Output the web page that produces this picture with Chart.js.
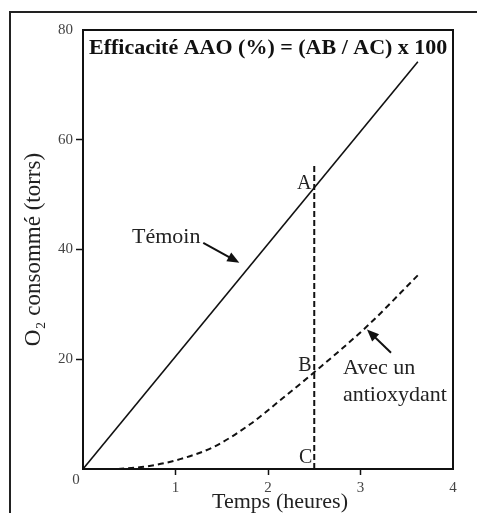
<!DOCTYPE html>
<html>
<head>
<meta charset="utf-8">
<script src="https://cdn.jsdelivr.net/npm/chart.js@4.4.1/dist/chart.umd.min.js"></script>
<style>
  body { margin: 0; background: #fff; }
  #wrap { position: relative; width: 477px; height: 513px; overflow: hidden; }
  #frame { position: absolute; left: 9px; top: 11px; width: 600px; height: 600px; border: 2px solid #222; }
  canvas { position: absolute; left: 0; top: 0; }
</style>
</head>
<body>
<div id="wrap">
  <div id="frame"></div>
  <canvas id="chart" width="477" height="513"></canvas>
</div>
<script>
// données (temps en heures, O2 en torrs)
const temoinX = [0, 3.62];
const temoinY = [0, 74.2];

const antioxX = [0.38, 0.7, 1.05, 1.41, 1.81, 2.13, 2.49, 3.07, 3.62];
const antioxY = [0, 0.5, 1.8, 4.0, 8.2, 12.5, 17.5, 26.0, 35.3];

// ligne verticale A-B-C
const mesureX = [2.5, 2.5];
const mesureY = [0, 55.5];

const xTicks = [0, 1, 2, 3, 4];
const yTicks = [0, 20, 40, 60, 80];

function toPoints(xs, ys) {
    return xs.map((x, i) => ({ x: x, y: ys[i] }));
}

const serif = "'Liberation Serif', 'Times New Roman', serif";

function arrow(ctx, x1, y1, x2, y2) {
    const a = Math.atan2(y2 - y1, x2 - x1);
    const len = 12, w = 5;
    ctx.beginPath();
    ctx.moveTo(x1, y1);
    ctx.lineTo(x2 - Math.cos(a) * len * 0.8, y2 - Math.sin(a) * len * 0.8);
    ctx.lineWidth = 2;
    ctx.stroke();
    ctx.beginPath();
    ctx.moveTo(x2, y2);
    ctx.lineTo(x2 - Math.cos(a) * len + Math.sin(a) * w, y2 - Math.sin(a) * len - Math.cos(a) * w);
    ctx.lineTo(x2 - Math.cos(a) * len - Math.sin(a) * w, y2 - Math.sin(a) * len + Math.cos(a) * w);
    ctx.closePath();
    ctx.fill();
}

const decorPlugin = {
    id: 'decor',
    afterDraw(chart) {
        const ctx = chart.ctx;
        const area = chart.chartArea;
        const xs = chart.scales.x, ys = chart.scales.y;
        const px = v => xs.getPixelForValue(v);
        const py = v => ys.getPixelForValue(v);

        ctx.save();
        ctx.strokeStyle = '#111';
        ctx.fillStyle = '#111';
        ctx.lineWidth = 2;
        ctx.strokeRect(area.left, area.top, area.right - area.left, area.bottom - area.top);

        // titre dans le cadre
        ctx.font = 'bold 22px ' + serif;
        ctx.textBaseline = 'middle';
        ctx.textAlign = 'left';
        ctx.fillText('Efficacité AAO (%) = (AB / AC) x 100', px(0.065), py(76.7));

        ctx.fillStyle = '#222';
        ctx.font = '22px ' + serif;
        ctx.fillText('Témoin', px(0.53), py(42.3));
        ctx.fillText('Avec un', px(2.81), py(18.4));
        ctx.fillText('antioxydant', px(2.81), py(13.5));

        ctx.font = '20px ' + serif;
        ctx.textAlign = 'right';
        ctx.fillText('A', px(2.47), py(52.0));
        ctx.fillText('B', px(2.47), py(18.8));
        ctx.fillText('C', px(2.48), py(2.0));

        ctx.fillStyle = '#111';
        arrow(ctx, px(1.30), py(41.2), px(1.69), py(37.6));
        arrow(ctx, px(3.33), py(21.2), px(3.07), py(25.4));

        // origine et titres des axes
        ctx.fillStyle = '#444';
        ctx.font = '15px ' + serif;
        ctx.textAlign = 'center';
        ctx.fillText('0', area.left - 7, area.bottom + 11);

        ctx.fillStyle = '#222';
        ctx.font = '22px ' + serif;
        ctx.fillText('Temps (heures)', 280, 502);

        ctx.translate(34, (area.top + area.bottom) / 2);
        ctx.rotate(-Math.PI / 2);
        ctx.font = '23px ' + serif;
        ctx.fillText('O₂ consommé (torrs)', 0, 0);
        ctx.restore();
    }
};

const tickFont = { family: serif, size: 15 };

new Chart(document.getElementById('chart').getContext('2d'), {
    type: 'scatter',
    data: {
        datasets: [
            {
                label: 'Témoin',
                data: toPoints(temoinX, temoinY),
                showLine: true,
                borderColor: '#111',
                borderWidth: 1.6,
                pointRadius: 0
            },
            {
                label: 'Avec un antioxydant',
                data: toPoints(antioxX, antioxY),
                showLine: true,
                borderColor: '#111',
                borderWidth: 2,
                borderDash: [6, 4],
                cubicInterpolationMode: 'monotone',
                pointRadius: 0
            },
            {
                label: 'ABC',
                data: toPoints(mesureX, mesureY),
                showLine: true,
                borderColor: '#111',
                borderWidth: 2,
                borderDash: [6, 3],
                pointRadius: 0
            }
        ]
    },
    options: {
        responsive: false,
        animation: false,
        layout: { padding: { top: 30, right: 24, left: 0, bottom: 0 } },
        plugins: {
            legend: { display: false },
            tooltip: { enabled: false }
        },
        scales: {
            x: {
                type: 'linear',
                min: 0,
                max: 4,
                afterBuildTicks: s => { s.ticks = xTicks.map(v => ({ value: v })); },
                afterFit: s => { s.height = 44; },
                ticks: {
                    callback: v => v === 0 ? '' : v,
                    font: tickFont,
                    color: '#444',
                    padding: 4,
                    maxRotation: 0
                },
                grid: {
                    drawOnChartArea: false,
                    tickLength: 6,
                    tickWidth: 1.5,
                    tickColor: c => (c.tick && c.tick.value > 0 && c.tick.value < 4) ? '#111' : 'rgba(0,0,0,0)'
                },
                border: { display: false }
            },
            y: {
                min: 0,
                max: 80,
                afterBuildTicks: s => { s.ticks = yTicks.map(v => ({ value: v })); },
                afterFit: s => { s.width = 83; },
                ticks: {
                    callback: v => v === 0 ? '' : v,
                    font: tickFont,
                    color: '#444',
                    padding: 3
                },
                grid: {
                    drawOnChartArea: false,
                    tickLength: 7,
                    tickWidth: 1.5,
                    tickColor: c => (c.tick && c.tick.value > 0 && c.tick.value < 80) ? '#111' : 'rgba(0,0,0,0)'
                },
                border: { display: false }
            }
        }
    },
    plugins: [decorPlugin]
});
</script>
</body>
</html>
